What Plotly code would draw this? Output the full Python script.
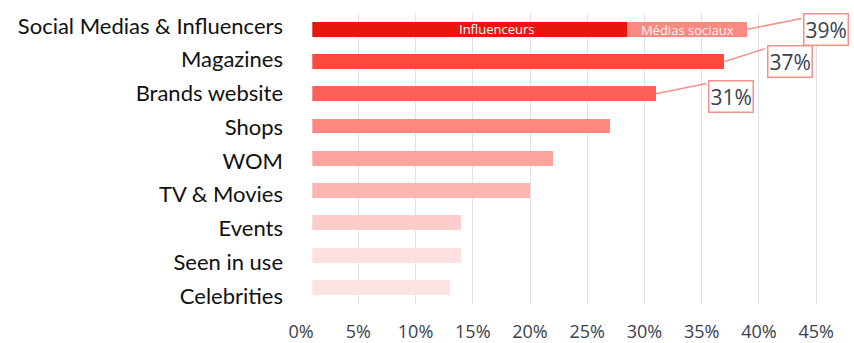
import plotly.graph_objects as go

# Information sources, top to bottom
categories = ["Social Medias & Influencers", "Magazines", "Brands website", "Shops",
              "WOM", "TV & Movies", "Events", "Seen in use", "Celebrities"]
totals = [39, 37, 31, 27, 22, 20, 14, 14, 13]

# Split of the first bar
influencers_share = 28.5
social_share = 10.5
split_names = ["Influenceurs", "Médias sociaux"]

tick_values = [0, 5, 10, 15, 20, 25, 30, 35, 40, 45]
tick_labels = [f"{v}%" for v in tick_values]

# Styles
bar_colors = ["#fe4a3d", "#fd6259", "#fe8780", "#fca39e", "#fdb5b1",
              "#fdcdcb", "#fde0df", "#fde3e2"]
infl_color = "#e8160c"
social_color = "#f98a82"
callout_color = "#f3928c"
text_dark = "#39414d"

W, H = 854, 343
M_T, M_B = 9, 30
zero_px = 301.1
px_per_pct = 11.446
bar_left_px = 312.3
right_px = 850.0
x_max = (right_px - zero_px) / px_per_pct
x_min_bars = (bar_left_px - zero_px) / px_per_pct

plot_h = H - M_T - M_B
bars_top_px, bars_bot_px = 13.1, 303.6
ydom = [(H - M_B - bars_bot_px) / plot_h, (H - M_B - bars_top_px) / plot_h]

fig = go.Figure()

fig.add_trace(go.Bar(
    y=[categories[0]], x=[influencers_share], orientation="h",
    marker=dict(color=infl_color, line=dict(width=0)), name=split_names[0],
    width=0.46, hoverinfo="skip",
))
fig.add_trace(go.Bar(
    y=[categories[0]], x=[social_share], base=[influencers_share], orientation="h",
    marker=dict(color=social_color, line=dict(width=0)), name=split_names[1],
    text=[split_names[1]], textposition="inside", insidetextanchor="middle",
    constraintext="none",
    textfont=dict(family="Open Sans", size=13, color="#fff2f1"),
    width=0.46, hoverinfo="skip",
))
fig.add_trace(go.Bar(
    y=categories[1:], x=totals[1:], orientation="h",
    marker=dict(color=bar_colors, line=dict(width=0)),
    width=0.46, hoverinfo="skip",
))

# Empty trace so the label axes (x2 for percentages, y2 for source names) are drawn
fig.add_trace(go.Scatter(x=[None], y=[None], xaxis="x2", yaxis="y2",
                         mode="markers", showlegend=False, hoverinfo="skip"))

# Label inside the influencer segment
fig.add_annotation(
    x=influencers_share * 0.6, y=categories[0], xref="x", yref="y",
    text=split_names[0], showarrow=False,
    font=dict(family="Open Sans", size=13, color="#ffffff"),
)

# Value call-outs for the three leading sources (pixel offsets of each box)
callout_offsets = [(55.6, -11, 0), (42, -13.4, 0), (52, -10.7, 3)]
for i, (dx, dy, ys) in enumerate(callout_offsets):
    fig.add_annotation(
        x=totals[i], y=categories[i], xref="x", yref="y",
        text="", showarrow=True, arrowhead=0, arrowwidth=1.5,
        arrowcolor=callout_color, ax=dx, ay=dy, axref="pixel", ayref="pixel",
        standoff=0, startstandoff=0,
    )
    fig.add_annotation(
        x=totals[i], y=categories[i], xref="x", yref="y",
        text=f"{totals[i]}%", showarrow=False, xanchor="left",
        xshift=dx, yshift=-ys,
        font=dict(family="Open Sans", size=21, color=text_dark),
        bgcolor="#ffffff", bordercolor=callout_color, borderwidth=1.5, borderpad=1,
    )

fig.update_layout(
    width=W, height=H,
    margin=dict(l=0, r=0, t=M_T, b=M_B, autoexpand=False),
    paper_bgcolor="#ffffff", plot_bgcolor="rgba(0,0,0,0)",
    barmode="stack", bargap=0, showlegend=False,
    xaxis=dict(
        domain=[bar_left_px / W, right_px / W], range=[x_min_bars, x_max],
        tickvals=tick_values[1:], showticklabels=False, ticks="",
        showgrid=True, gridcolor="#e2e2e6", gridwidth=1.2,
        zeroline=False, showline=False, anchor="y", automargin=False,
    ),
    xaxis2=dict(
        domain=[zero_px / W, right_px / W], range=[0, x_max], anchor="y",
        tickvals=tick_values, ticktext=tick_labels, showgrid=False,
        zeroline=False, showline=False, ticks="outside", ticklen=12,
        tickcolor="rgba(0,0,0,0)", automargin=False,
        tickfont=dict(family="Open Sans", size=18, color=text_dark),
    ),
    yaxis=dict(
        domain=ydom, type="category", categoryarray=categories,
        categoryorder="array", range=[8.5, -0.5], automargin=False,
        showticklabels=False, showgrid=False, zeroline=False, ticks="",
    ),
    yaxis2=dict(
        domain=[0, 1], range=[8.5, -0.5], tickvals=list(range(len(categories))),
        ticktext=categories, anchor="free", position=283 / W, side="left",
        showgrid=False, zeroline=False, showline=False, ticks="", automargin=False,
        tickfont=dict(family="Lato", size=22, color="#111111"),
    ),
)

fig.write_html("out.html")
